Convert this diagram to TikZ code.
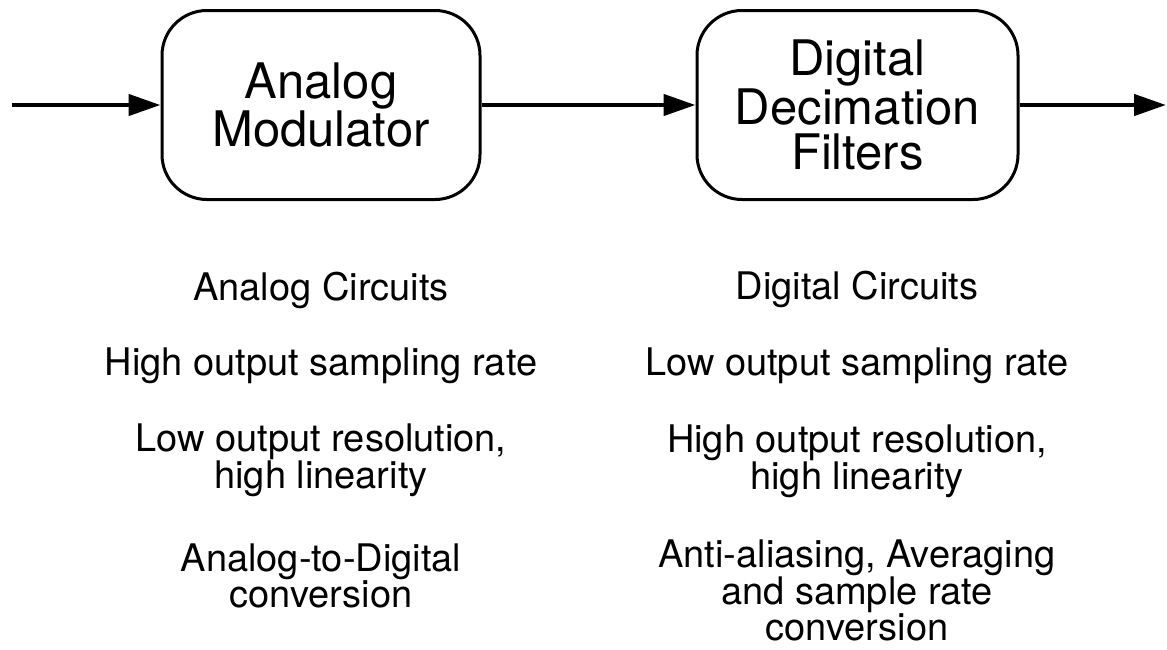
\documentclass[tikz,border=0pt]{standalone}
\usepackage{fontspec}
\setmainfont{TeX Gyre Heros}
\usetikzlibrary{arrows.meta}
\begin{document}
\begin{tikzpicture}[x=1pt,y=-1pt,
  block/.style={draw, line width=3pt, rounded corners=45pt, align=center,
    inner sep=0pt, font=\fontsize{49}{43}\selectfont},
  flow/.style={line width=4.5pt, -{Triangle[length=32pt,width=21pt]}},
  note/.style={align=center, anchor=base, inner sep=0pt,
    font=\fontsize{38}{35.5}\selectfont}]
  \useasboundingbox (0,0) rectangle (1167,649);

  % processing blocks
  \node[block, minimum width=318pt, minimum height=189pt] (mod) at (321,105)
    {Analog\\Modulator};
  \node[block, minimum width=321pt, minimum height=189pt] (dec) at (857.5,105)
    {Digital\\[2pt]Decimation\\[2pt]Filters};

  % signal flow
  \coordinate (in) at (12,105);
  \coordinate (out) at (1166,105);
  \draw[flow] (in) -- (mod.west);
  \draw[flow] (mod.east) -- (dec.west);
  \draw[flow] (dec.east) -- (out);

  % properties of the analog stage (base = baseline of the last line)
  \node[note] (a1) at (321,300) {Analog Circuits};
  \node[note] (a2) at (321,375) {High output sampling rate};
  \node[note] (a3) at (321,488) {Low output resolution,\\high linearity};
  \node[note] (a4) at (321,607) {Analog-to-Digital\\conversion};

  % properties of the digital stage
  \node[note] (d1) at (857,299) {Digital Circuits};
  \node[note] (d2) at (857,375) {Low output sampling rate};
  \node[note] (d3) at (857,489) {High output resolution,\\high linearity};
  \node[note] (d4) at (857,640) {Anti-aliasing, Averaging\\and sample rate\\conversion};
\end{tikzpicture}
\end{document}
